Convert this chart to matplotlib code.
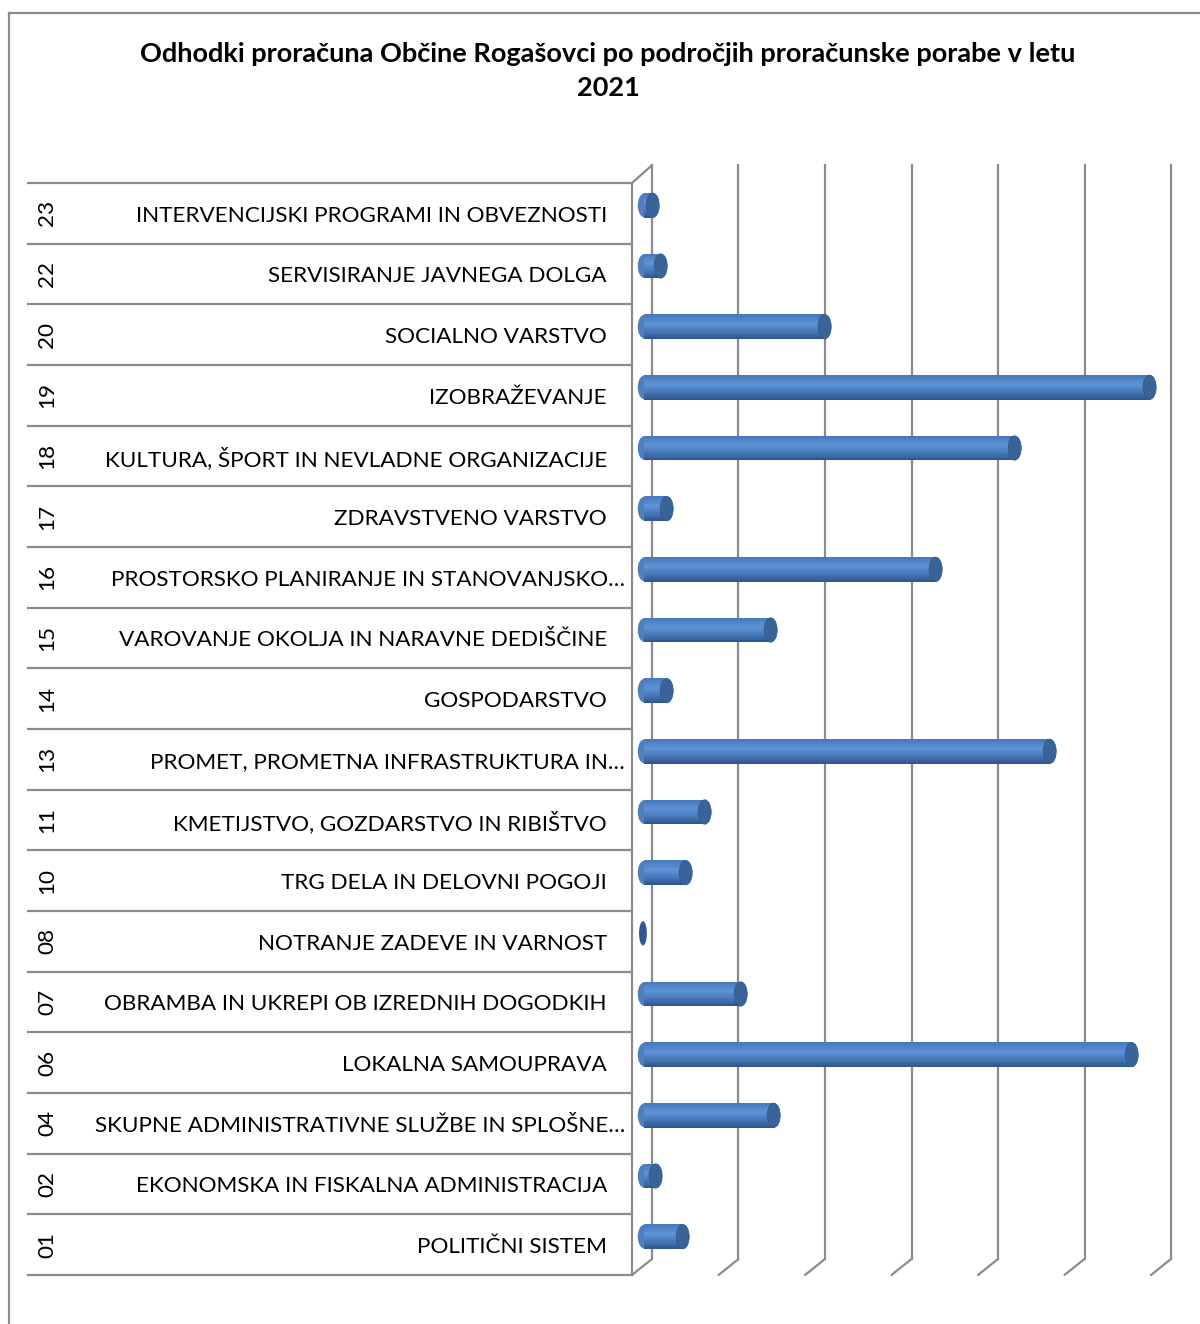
import matplotlib
matplotlib.use("Agg")
import matplotlib.pyplot as plt
import matplotlib.transforms as mtransforms
from matplotlib.patches import Ellipse, ConnectionPatch
from matplotlib.lines import Line2D
import numpy as np

plt.rcParams['font.family'] = ['Lato', 'DejaVu Sans']

# ---- data (bottom to top) ----
codes = ["01", "02", "04", "06", "07", "08", "10", "11", "13", "14",
         "15", "16", "17", "18", "19", "20", "22", "23"]
names = ["POLITIČNI SISTEM",
         "EKONOMSKA IN FISKALNA ADMINISTRACIJA",
         "SKUPNE ADMINISTRATIVNE SLUŽBE IN SPLOŠNE…",
         "LOKALNA SAMOUPRAVA",
         "OBRAMBA IN UKREPI OB IZREDNIH DOGODKIH",
         "NOTRANJE ZADEVE IN VARNOST",
         "TRG DELA IN DELOVNI POGOJI",
         "KMETIJSTVO, GOZDARSTVO IN RIBIŠTVO",
         "PROMET, PROMETNA INFRASTRUKTURA IN…",
         "GOSPODARSTVO",
         "VAROVANJE OKOLJA IN NARAVNE DEDIŠČINE",
         "PROSTORSKO PLANIRANJE IN STANOVANJSKO…",
         "ZDRAVSTVENO VARSTVO",
         "KULTURA, ŠPORT IN NEVLADNE ORGANIZACIJE",
         "IZOBRAŽEVANJE",
         "SOCIALNO VARSTVO",
         "SERVISIRANJE JAVNEGA DOLGA",
         "INTERVENCIJSKI PROGRAMI IN OBVEZNOSTI"]
values = [106400, 43900, 316800, 1144500, 240500, 9000, 113300, 157200,
          955000, 69400, 309800, 691300, 69400, 874000, 1186000, 434700,
          55500, 37000]
x_ticks = [0, 200000, 400000, 600000, 800000, 1000000, 1200000]
title = "Odhodki proračuna Občine Rogašovci po področjih proračunske porabe v letu\n2021"

W, H, DPI = 1200, 1324, 100
fig = plt.figure(figsize=(W / DPI, H / DPI), dpi=DPI)
fig.patch.set_facecolor("white")

# front plane of the plot area
ax_l, ax_r, ax_t, ax_b = 632, 1151, 183, 1275
ax = fig.add_axes([ax_l / W, 1 - ax_b / H, (ax_r - ax_l) / W, (ax_b - ax_t) / H])
ax.set_xlim(x_ticks[0], x_ticks[-1])
ax.set_ylim(-0.5, len(codes) - 0.5)
ax.axis("off")

GRID = "#8c8c8c"
# depth offsets (pixels -> inches)
back = ax.transData + mtransforms.ScaledTranslation(20 / DPI, 16 / DPI, fig.dpi_scale_trans)
mid = ax.transData + mtransforms.ScaledTranslation(9 / DPI, 8 / DPI, fig.dpi_scale_trans)

ylo, yhi = -0.5, len(codes) - 0.5
# back wall gridlines and floor slants
for xv in x_ticks:
    ax.plot([xv, xv], [ylo, yhi + 0.03], color=GRID, lw=1.6, transform=back, clip_on=False, zorder=1)
    cp = ConnectionPatch((xv, ylo), (xv, ylo), coordsA=ax.transData, coordsB=back,
                         color=GRID, lw=1.6, zorder=1)
    fig.add_artist(cp)
# left wall (front edge) and top slant
ax.plot([0, 0], [ylo, yhi], color=GRID, lw=1.6, clip_on=False, zorder=1)
fig.add_artist(ConnectionPatch((0, yhi), (0, yhi + 0.03), coordsA=ax.transData, coordsB=back,
                               color=GRID, lw=1.6, zorder=1))

# label table lines
yax = ax.get_yaxis_transform()
x_tab = (28 - ax_l) / (ax_r - ax_l)
for i in range(len(codes) + 1):
    ax.plot([x_tab, 0], [i - 0.5, i - 0.5], color=GRID, lw=1.6, transform=yax, clip_on=False, zorder=1)

# category labels
x_name = (607 - ax_l) / (ax_r - ax_l)
x_name_trunc = (625 - ax_l) / (ax_r - ax_l)
x_code = (47 - ax_l) / (ax_r - ax_l)
for i, (c, n) in enumerate(zip(codes, names)):
    xn = x_name_trunc if n.endswith("…") else x_name
    ax.text(xn, i - 0.04, n, transform=yax, ha="right", va="center", fontsize=16.2, color="black")
    ax.text(x_code, i, c, transform=yax, ha="center", va="center", rotation=90, fontsize=16.2, color="black")

# cylinder bars
bh = 0.40
cap_w = 30000
n_sl = 14
top_c = np.array([0x45, 0x78, 0xB8]) / 255
hi_c = np.array([0x5E, 0x93, 0xD8]) / 255
bot_c = np.array([0x2A, 0x52, 0x88]) / 255
mid_c = bot_c + (hi_c - bot_c) * 0.7
profile_pos = [0.0, 0.62, 1.0]  # from bottom to top
for i, v in enumerate(values):
    body_l = cap_w / 4
    body_r = max(v - cap_w / 3, body_l)
    if v > cap_w * 0.7:
        for j in range(n_sl):
            t = (j + 0.5) / n_sl
            if t < profile_pos[1]:
                f = t / profile_pos[1]
                col = bot_c + (hi_c - bot_c) * f ** 0.8
            else:
                f = (t - profile_pos[1]) / (1 - profile_pos[1])
                col = hi_c + (top_c - hi_c) * f
            yc = i - bh / 2 + (j + 0.5) * bh / n_sl
            ax.barh(yc, body_r - body_l, left=body_l, height=bh / n_sl * 1.05,
                    color=col, linewidth=0, transform=mid, zorder=3, clip_on=False)
        ax.add_patch(Ellipse((body_l, i), cap_w, bh * 0.98, facecolor=mid_c, edgecolor="none",
                             transform=mid, zorder=2, clip_on=False))
        ax.add_patch(Ellipse((body_r, i), cap_w, bh, facecolor="#3a6497", edgecolor="#335a8a",
                             lw=0.6, transform=mid, zorder=4, clip_on=False))
    else:
        ax.add_patch(Ellipse((v / 2, i), max(v, cap_w * 0.6), bh, facecolor="#30578f",
                             edgecolor="none", transform=mid, zorder=4, clip_on=False))

# title
fig.text(608 / W, 1 - 71 / H, title, ha="center", va="center", fontsize=19.5,
         fontweight="bold", linespacing=1.5)

# chart frame
fig.add_artist(Line2D([9 / W, 9 / W], [0, 1 - 13 / H], color="#8c8c8c", lw=1.6))
fig.add_artist(Line2D([9 / W, 1], [1 - 13 / H, 1 - 13 / H], color="#8c8c8c", lw=1.6))

fig.savefig("out.png", dpi=DPI, facecolor="white")
